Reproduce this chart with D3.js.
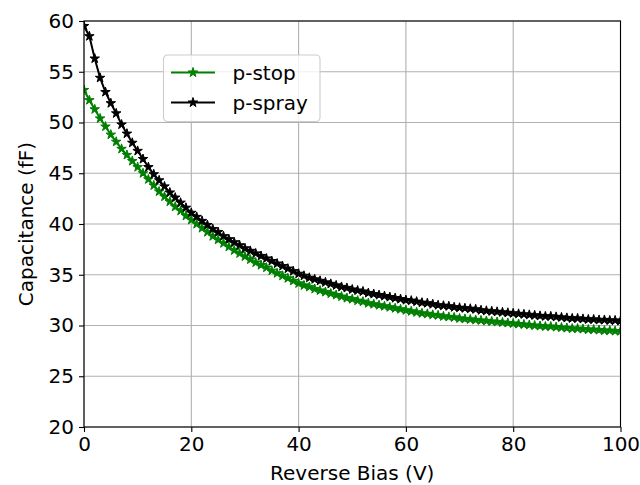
<!DOCTYPE html>
<html>
<head>
<meta charset="utf-8">
<script src="https://cdn.jsdelivr.net/npm/d3@7"></script>
<style>
  body { margin: 0; background: #fff; }
  text { font-family: "DejaVu Sans", sans-serif; }
</style>
</head>
<body>
<div id="chart"></div>
<script>
// reverse bias (V)
var bias = [0,1,2,3,4,5,6,7,8,9,10,11,12,13,14,15,16,17,18,19,20,
  21,22,23,24,25,26,27,28,29,30,31,32,33,34,35,36,37,38,39,40,
  41,42,43,44,45,46,47,48,49,50,51,52,53,54,55,56,57,58,59,60,
  61,62,63,64,65,66,67,68,69,70,71,72,73,74,75,76,77,78,79,80,
  81,82,83,84,85,86,87,88,89,90,91,92,93,94,95,96,97,98,99,100];

// capacitance (fF)
var pStop = [53.2,52.2,51.3,50.4,49.6,48.8,48.1,47.4,46.8,46.2,45.6,
  45.0,44.4,43.8,43.2,42.7,42.2,41.7,41.3,40.8,40.4,
  40.0,39.6,39.2,38.8,38.45,38.1,37.75,37.4,37.1,36.8,
  36.5,36.2,35.95,35.7,35.4,35.15,34.9,34.65,34.4,34.15,
  33.95,33.8,33.6,33.45,33.3,33.15,33.0,32.85,32.7,32.6,
  32.45,32.35,32.2,32.1,32.0,31.9,31.8,31.7,31.6,31.5,
  31.4,31.3,31.2,31.15,31.05,31.0,30.9,30.85,30.8,30.7,
  30.65,30.6,30.55,30.5,30.45,30.4,30.35,30.3,30.25,30.2,
  30.15,30.1,30.05,30.0,29.95,29.9,29.9,29.85,29.8,29.75,
  29.7,29.7,29.65,29.6,29.6,29.55,29.5,29.5,29.45,29.45];

var pSpray = [59.5,58.5,56.3,54.4,53.0,51.9,50.9,49.8,48.9,48.0,47.2,
  46.4,45.6,44.9,44.3,43.7,43.1,42.6,42.1,41.6,41.1,
  40.7,40.3,39.9,39.5,39.2,38.8,38.5,38.2,37.9,37.6,
  37.35,37.1,36.85,36.6,36.35,36.1,35.85,35.6,35.35,35.1,
  34.9,34.7,34.55,34.4,34.25,34.1,33.95,33.8,33.7,33.55,
  33.45,33.35,33.2,33.1,33.0,32.9,32.8,32.7,32.6,32.5,
  32.45,32.35,32.25,32.2,32.1,32.0,31.95,31.9,31.8,31.75,
  31.7,31.65,31.6,31.5,31.45,31.4,31.35,31.3,31.25,31.2,
  31.15,31.1,31.05,31.0,30.95,30.9,30.9,30.85,30.8,30.75,
  30.7,30.7,30.65,30.6,30.6,30.55,30.55,30.5,30.5,30.45];

var xTicks = [0,20,40,60,80,100];
var yTicks = [20,25,30,35,40,45,50,55,60];

var series = [
  {name: "p-stop", values: pStop, color: "green"},
  {name: "p-spray", values: pSpray, color: "black"}
];

var margin = {top: 21, right: 19.5, bottom: 58, left: 84},
    width = 640 - margin.left - margin.right,
    height = 485 - margin.top - margin.bottom;

var svg = d3.select("#chart")
  .append("svg")
  .attr("width", 640)
  .attr("height", 485)
  .append("g")
  .attr("transform", "translate(" + margin.left + "," + margin.top + ")");

var x = d3.scaleLinear().domain([0, 100]).range([0, width]);
var y = d3.scaleLinear().domain([20, 60]).range([height, 0]);

// grid
svg.append("g").selectAll("line")
  .data(xTicks).enter().append("line")
  .attr("x1", function(d) { return x(d); })
  .attr("x2", function(d) { return x(d); })
  .attr("y1", 0).attr("y2", height)
  .attr("stroke", "#b0b0b0").attr("stroke-width", 1.1);
svg.append("g").selectAll("line")
  .data(yTicks).enter().append("line")
  .attr("y1", function(d) { return y(d); })
  .attr("y2", function(d) { return y(d); })
  .attr("x1", 0).attr("x2", width)
  .attr("stroke", "#b0b0b0").attr("stroke-width", 1.1);

svg.append("clipPath").attr("id", "clip")
  .append("rect").attr("width", width).attr("height", height);

var star = d3.symbol().type(d3.symbolStar).size(28);

var plot = svg.append("g").attr("clip-path", "url(#clip)");

series.forEach(function(s) {
  var pts = bias.map(function(b, i) { return [b, s.values[i]]; });
  plot.append("path")
    .datum(pts)
    .attr("fill", "none")
    .attr("stroke", s.color)
    .attr("stroke-width", 2)
    .attr("d", d3.line()
      .x(function(d) { return x(d[0]); })
      .y(function(d) { return y(d[1]); }));
  plot.selectAll(null)
    .data(pts).enter().append("path")
    .attr("transform", function(d) { return "translate(" + x(d[0]) + "," + y(d[1]) + ")"; })
    .attr("d", star)
    .attr("fill", s.color)
    .attr("stroke", s.color)
    .attr("stroke-width", 1);
});

// axes
var xAxis = svg.append("g")
  .attr("transform", "translate(0," + height + ")")
  .call(d3.axisBottom(x).tickValues(xTicks).tickSize(5).tickPadding(5));
var yAxis = svg.append("g")
  .call(d3.axisLeft(y).tickValues(yTicks).tickSize(5).tickPadding(5));
[xAxis, yAxis].forEach(function(a) {
  a.selectAll("text").style("font-size", "20px").attr("fill", "#000");
  a.selectAll("line").attr("stroke", "#000").attr("stroke-width", 1.1);
  a.select(".domain").remove();
});

svg.append("rect")
  .attr("width", width).attr("height", height)
  .attr("fill", "none").attr("stroke", "#000").attr("stroke-width", 1.1);

svg.append("text")
  .attr("x", width / 2).attr("y", height + 53)
  .attr("text-anchor", "middle")
  .style("font-size", "20px")
  .text("Reverse Bias (V)");

svg.append("text")
  .attr("transform", "translate(" + (33 - margin.left) + "," + (height / 2) + ") rotate(-90)")
  .attr("text-anchor", "middle")
  .style("font-size", "20px")
  .text("Capacitance (fF)");

// legend
var leg = svg.append("g").attr("transform", "translate(" + (163.5 - margin.left) + "," + (55 - margin.top) + ")");
leg.append("rect")
  .attr("width", 156.5).attr("height", 66.5)
  .attr("rx", 4).attr("ry", 4)
  .attr("fill", "#fff").attr("fill-opacity", 0.8)
  .attr("stroke", "#cccccc").attr("stroke-width", 1.1);

series.forEach(function(s, i) {
  var yy = 17.5 + i * 30;
  leg.append("line")
    .attr("x1", 7.5).attr("x2", 51.5)
    .attr("y1", yy).attr("y2", yy)
    .attr("stroke", s.color).attr("stroke-width", 2);
  leg.append("path")
    .attr("transform", "translate(29.5," + yy + ")")
    .attr("d", star)
    .attr("fill", s.color).attr("stroke", s.color).attr("stroke-width", 1);
  leg.append("text")
    .attr("x", 69).attr("y", yy)
    .attr("dy", "0.35em")
    .style("font-size", "20px")
    .text(s.name);
});
</script>
</body>
</html>
